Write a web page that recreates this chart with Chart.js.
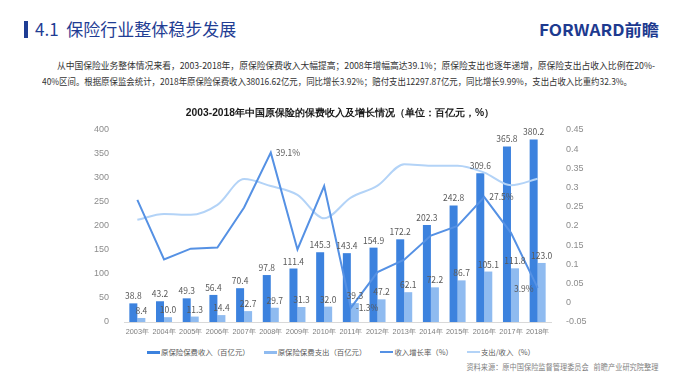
<!DOCTYPE html>
<html>
<head>
<meta charset="utf-8">
<script src="https://cdn.jsdelivr.net/npm/chart.js@4.4.0/dist/chart.umd.min.js"></script>
<style>
  body { margin: 0; width: 680px; height: 379px; background: #fff; position: relative; overflow: hidden;
         font-family: "Noto Sans CJK SC", "Noto Sans", sans-serif; }
  .bar { position: absolute; left: 24px; top: 21px; width: 4px; height: 17px; background: #1f3d94; }
  .head { position: absolute; left: 35px; top: 18px; font-size: 17px; color: #1f3d94; line-height: 22px; white-space: nowrap; }
  .logo { position: absolute; left: 539px; top: 17px; font-size: 16px; font-weight: bold; color: #1d3a8f; white-space: nowrap; transform-origin: left center; }
  .para { position: absolute; font-size: 9.3px; color: #333; white-space: nowrap; line-height: 12px; transform-origin: left center; }
  .src { position: absolute; right: 22px; top: 361px; font-size: 8px; color: #7f7f7f; white-space: nowrap; transform-origin: right center; }
  #wrap { position: absolute; left: 0; top: 100px; width: 680px; height: 242px; }
  #legend { position: absolute; left: 0; top: 346px; width: 682px; display: flex; justify-content: center; gap: 14px;
            font-size: 7.4px; color: #595959; line-height: 12px; }
  #legend .item { display: flex; align-items: center; white-space: nowrap; }
  #legend .sw { width: 13px; margin-right: 1px; }
</style>
</head>
<body>
<div class="bar"></div>
<div class="head">4.1&nbsp; 保险行业整体稳步发展</div>
<div class="logo" data-w="120">FORWARD前瞻</div>
<div class="para" data-w="598" style="left:57px;top:59px;">从中国保险业务整体情况来看，2003-2018年，原保险保费收入大幅提高；2008年增幅高达39.1%；原保险支出也逐年递增，原保险支出占收入比例在20%-</div>
<div class="para" data-w="590" style="left:42px;top:75px;">40%区间。根据原保监会统计，2018年原保险保费收入38016.62亿元，同比增长3.92%；赔付支出12297.87亿元，同比增长9.99%，支出占收入比重约32.3%。</div>
<div id="wrap"><canvas id="chart"></canvas></div>
<div id="legend"></div>
<div class="src" data-w="192">资料来源：原中国保险监督管理委员会&nbsp;&nbsp; 前瞻产业研究院整理</div>

<script>
const years = ['2003年', '2004年', '2005年', '2006年', '2007年', '2008年', '2009年', '2010年',
               '2011年', '2012年', '2013年', '2014年', '2015年', '2016年', '2017年', '2018年'];
// 百亿元
const premiumIncome = [38.8, 43.2, 49.3, 56.4, 70.4, 97.8, 111.4, 145.3, 143.4, 154.9, 172.2, 202.3, 242.8, 309.6, 365.8, 380.2];
const premiumPayout = [8.4, 10.0, 11.3, 14.4, 22.7, 29.7, 31.3, 32.0, 39.3, 47.2, 62.1, 72.2, 86.7, 105.1, 111.8, 123.0];
// ratios on the right axis
const incomeGrowth = [0.268, 0.113, 0.141, 0.144, 0.248, 0.391, 0.139, 0.304, -0.013, 0.080, 0.112, 0.175, 0.200, 0.275, 0.182, 0.039];
const payoutRatio = [0.216, 0.231, 0.229, 0.255, 0.322, 0.304, 0.281, 0.220, 0.274, 0.305, 0.361, 0.357, 0.357, 0.339, 0.306, 0.323];
// growth points that carry a label, and which side
const growthLabelAt = { 5: 'right', 8: 'right', 13: 'right', 15: 'left' };

// squeeze text blocks to the width they take in the original
document.querySelectorAll('[data-w]').forEach(el => {
    const w = el.getBoundingClientRect().width;
    el.style.transform = 'scaleX(' + (+el.dataset.w / w) + ')';
});

const labelFont = '8.5px "Noto Sans CJK SC", "Noto Sans", sans-serif';

const valueLabels = {
    id: 'valueLabels',
    afterDatasetsDraw(chart) {
        const ctx = chart.ctx;
        ctx.save();
        ctx.font = labelFont;
        ctx.fillStyle = '#595959';
        ctx.textBaseline = 'bottom';
        ctx.textAlign = 'center';
        [0, 1].forEach(di => {
            chart.getDatasetMeta(di).data.forEach((bar, i) => {
                const v = chart.data.datasets[di].data[i];
                ctx.fillText(v.toFixed(1), bar.x, bar.y - 3);
            });
        });
        ctx.textBaseline = 'middle';
        const pts = chart.getDatasetMeta(2).data;
        Object.keys(growthLabelAt).forEach(k => {
            const i = +k, p = pts[i];
            const txt = (incomeGrowth[i] * 100).toFixed(1) + '%';
            if (growthLabelAt[k] === 'left') {
                ctx.textAlign = 'right';
                ctx.fillText(txt, p.x - 4, p.y + 1);
            } else {
                ctx.textAlign = 'left';
                ctx.fillText(txt, p.x + 5, p.y);
            }
        });
        ctx.restore();
    }
};

const chart = new Chart(document.getElementById('chart'), {
    type: 'bar',
    data: {
        labels: years,
        datasets: [
            {
                label: '原保险保费收入（百亿元）',
                data: premiumIncome,
                backgroundColor: '#3c82de',
                yAxisID: 'y',
                barPercentage: 1,
                categoryPercentage: 0.6,
                order: 3
            },
            {
                label: '原保险保费支出（百亿元）',
                data: premiumPayout,
                backgroundColor: '#8fbbf0',
                yAxisID: 'y',
                barPercentage: 1,
                categoryPercentage: 0.6,
                order: 4
            },
            {
                type: 'line',
                label: '收入增长率（%）',
                data: incomeGrowth,
                borderColor: '#5591e4',
                backgroundColor: '#5591e4',
                borderWidth: 2,
                pointRadius: 0,
                tension: 0,
                yAxisID: 'y1',
                order: 1
            },
            {
                type: 'line',
                label: '支出/收入（%）',
                data: payoutRatio,
                borderColor: '#b3d3f7',
                backgroundColor: '#b3d3f7',
                borderWidth: 2,
                pointRadius: 0,
                tension: 0.4,
                cubicInterpolationMode: 'monotone',
                yAxisID: 'y1',
                order: 2
            }
        ]
    },
    options: {
        responsive: true,
        maintainAspectRatio: false,
        animation: false,
        layout: { padding: 0 },
        scales: {
            x: {
                grid: { display: false, drawTicks: false },
                border: { color: '#d9d9d9' },
                ticks: { color: '#7f7f7f', font: { size: 7.3 }, maxRotation: 0, autoSkip: false, padding: 6 },
                afterFit(scale) { scale.height = 20; }
            },
            y: {
                position: 'left',
                min: 0, max: 400,
                grid: { display: false },
                border: { display: false },
                ticks: { stepSize: 50, color: '#8c8c8c', font: { size: 9 }, padding: 7 },
                afterFit(scale) { scale.width = 124; }
            },
            y1: {
                position: 'right',
                min: -0.05, max: 0.45,
                grid: { display: false },
                border: { display: false },
                ticks: {
                    stepSize: 0.05, color: '#8c8c8c', font: { size: 9 }, padding: 7,
                    callback: v => String(parseFloat(v.toFixed(2)))
                },
                afterFit(scale) { scale.width = 129; }
            }
        },
        plugins: {
            title: {
                display: true,
                text: '2003-2018年中国原保险的保费收入及增长情况（单位：百亿元，%）',
                color: '#1a1a1a',
                font: { size: 10.3, weight: 'bold' },
                padding: { top: 7, bottom: 10.6 }
            },
            legend: { display: false },
            tooltip: { enabled: false }
        }
    },
    plugins: [valueLabels]
});

// legend built from the chart's own datasets
const legendEl = document.getElementById('legend');
chart.data.datasets.forEach(ds => {
    const item = document.createElement('div');
    item.className = 'item';
    const sw = document.createElement('span');
    sw.className = 'sw';
    sw.style.height = ds.type === 'line' ? '2px' : '3px';
    sw.style.background = ds.type === 'line' ? ds.borderColor : ds.backgroundColor;
    item.appendChild(sw);
    item.appendChild(document.createTextNode(ds.label));
    legendEl.appendChild(item);
});
</script>
</body>
</html>
